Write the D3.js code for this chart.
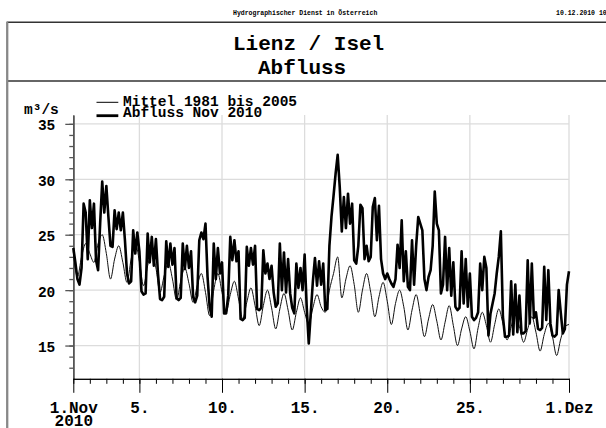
<!DOCTYPE html>
<html>
<head>
<meta charset="utf-8">
<script src="https://cdn.jsdelivr.net/npm/d3@7/dist/d3.min.js"></script>
<style>
body { margin: 0; background: #fff; }
text { font-family: "Courier New", "Liberation Mono", monospace; font-weight: bold; fill: #000; }
</style>
</head>
<body>
<div id="chart"></div>
<script>
//////////////////////////////////////////////
// data //////////////////////////////////////
//////////////////////////////////////////////

// Mittel 1981 bis 2005, every 6 hours from 1.Nov 00:00 to 1.Dez 00:00
var mittelValues = [
  23.5, 21.2, 23.0, 24.2,   23.3, 22.5, 24.2, 25.0,   23.3, 21.0, 22.8, 24.0,
  22.5, 20.7, 22.8, 24.3,   22.6, 20.4, 22.2, 23.5,   22.0, 19.8, 21.3, 22.5,
  21.0, 19.1, 20.8, 22.0,   20.6, 18.9, 20.4, 21.5,   19.8, 17.7, 20.0, 21.5,
  19.8, 18.0, 19.6, 20.8,   19.2, 17.4, 18.9, 20.2,   18.6, 16.8, 18.6, 20.0,
  18.4, 16.5, 18.3, 19.7,   18.2, 16.4, 18.0, 19.3,   18.0, 16.9, 18.4, 19.6,
  18.5, 18.0, 20.0, 21.5,   23.0, 19.3, 21.0, 22.2,   20.5, 18.0, 20.0, 21.5,
  19.8, 17.6, 19.4, 20.7,   19.0, 16.9, 18.8, 20.0,   18.5, 16.4, 18.2, 19.6,
  17.8, 15.8, 17.4, 18.7,   17.2, 15.5, 17.1, 18.6,   16.8, 15.0, 16.5, 17.6,
  16.3, 14.7, 16.6, 18.0,   16.8, 15.3, 16.9, 18.3,   17.0, 15.5, 16.7, 17.8,
  16.7, 15.3, 16.5, 17.6,   16.2, 14.5, 16.0, 17.0,   15.8, 14.1, 15.6, 16.7,
  16.9
];

// Abfluss Nov 2010, every 3 hours from 1.Nov 00:00 to 1.Dez 00:00
var abflussValues = [
  23.8, 22.5, 21.0, 20.5, 22.0, 27.8, 27.0, 22.8,
  28.1, 25.6, 27.8, 22.7, 21.8, 26.0, 29.8, 27.0,
  29.4, 26.6, 24.0, 23.9, 27.2, 25.5, 27.0, 25.4,
  27.0, 24.5, 21.5, 20.6, 20.8, 25.4, 23.3, 25.2,
  23.5, 19.9, 19.6, 19.7, 25.1, 22.5, 24.8, 22.2,
  24.6, 21.5, 19.2, 19.1, 19.4, 24.4, 22.1, 24.2,
  22.3, 23.8, 19.3, 19.1, 19.3, 24.2, 21.9, 24.0,
  22.0, 23.5, 19.4, 18.9, 19.5, 24.5, 25.2, 24.6,
  26.0, 21.2, 18.5, 17.6, 24.2, 21.0, 23.8, 21.5,
  22.5, 17.9, 17.9, 19.5, 24.8, 22.7, 24.5, 22.6,
  23.5, 17.4, 17.3, 17.5, 23.9, 22.2, 23.8, 22.3,
  24.0, 18.3, 18.2, 18.4, 23.6, 21.5, 22.4, 21.0,
  22.2, 19.8, 18.5, 18.8, 24.2, 20.0, 23.4, 19.8,
  22.8, 19.7, 18.4, 17.9, 22.4, 20.2, 22.0, 20.0,
  23.2, 18.5, 15.2, 18.0, 20.8, 22.9, 20.4, 22.6,
  20.5, 22.4, 18.2, 18.3, 24.0, 26.6, 28.5, 30.5,
  32.2, 29.3, 25.3, 28.4, 25.6, 28.7, 26.0, 27.8,
  22.7, 22.4, 24.0, 27.7, 27.4, 22.8, 24.0, 22.6,
  23.0, 27.5, 28.3, 24.5, 27.6, 22.8, 21.5, 21.0,
  21.5, 21.0, 20.6, 20.3, 21.0, 24.1, 22.0, 26.3,
  20.8, 23.5, 20.3, 20.0, 24.5, 20.5, 24.0, 26.6,
  26.0, 25.4, 21.0, 20.0, 21.2, 21.8, 24.0, 28.9,
  26.0, 25.4, 19.7, 20.5, 24.8, 20.0, 23.8, 19.5,
  22.5, 18.5, 18.2, 18.4, 23.5, 18.8, 22.8, 18.5,
  21.5, 17.6, 17.3, 17.5, 18.0, 22.4, 20.0, 23.0,
  22.0, 15.9, 17.9, 18.8, 19.7, 21.5, 23.0, 25.3,
  17.6, 15.8, 15.8, 15.9, 20.8, 16.0, 20.5, 16.2,
  19.5, 16.1, 16.1, 16.3, 22.7, 17.0, 22.4, 17.5,
  18.0, 16.5, 16.4, 16.6, 22.1, 17.3, 21.8, 17.0,
  15.9, 15.8, 16.0, 20.0, 18.0, 16.1, 16.5, 20.5,
  21.7
];

// axis ticks
var xTickDays = [1, 5, 10, 15, 20, 25, 31];
var xTickLabels = ["1.Nov", "5.", "10.", "15.", "20.", "25.", "1.Dez"];
var yTicks = [15, 20, 25, 30, 35];
var legendLabels = ["Mittel 1981 bis 2005", "Abfluss Nov 2010"];

var titleLines = ["Lienz / Isel", "Abfluss"];
var headerText = "Hydrographischer Dienst in Österreich";
var dateText = "10.12.2010 10:00";

// turn the arrays into {day, value}
var mittel = mittelValues.map(function(v, i) { return {day: 1 + i / 4, value: v}; });
var abfluss = abflussValues.map(function(v, i) { return {day: 1 + i / 8, value: v}; });

//////////////////////////////////////////////
// Chart Config /////////////////////////////
//////////////////////////////////////////////

var margin = {top: 115, right: 37, bottom: 49.2, left: 73.3};
var width = 606 - margin.left - margin.right,
    height = 428 - margin.top - margin.bottom;

var xScale = d3.scaleLinear().domain([1, 31]).range([0, width]);
var yScale = d3.scaleLinear().domain([12, 35.8]).range([height, 0]);

var svg = d3.select("#chart")
    .append("svg")
    .attr("width", 606)
    .attr("height", 428);

// frame / header
svg.append("text")
    .attr("x", 233).attr("y", 15)
    .style("font-size", "6.5px")
    .text(headerText);
svg.append("text")
    .attr("x", 556).attr("y", 15)
    .style("font-size", "6.5px")
    .text(dateText);

svg.append("path")
    .attr("d", "M7.3,428V22.3H606")
    .style("fill", "none").style("stroke", "#333").style("stroke-width", 1.5);
svg.append("line")
    .attr("x1", 7.3).attr("x2", 606).attr("y1", 81).attr("y2", 81)
    .style("stroke", "#333").style("stroke-width", 1.5);
svg.append("line")
    .attr("x1", 7.3).attr("x2", 7.3).attr("y1", 22).attr("y2", 428)
    .style("stroke", "#888").style("stroke-width", 2);

// titles
svg.append("text").attr("x", 233).attr("y", 49.5).style("font-size", "21px").text(titleLines[0]);
svg.append("text").attr("x", 258).attr("y", 73.5).style("font-size", "21px").text(titleLines[1]);

// unit
svg.append("text").attr("x", 24).attr("y", 113.5).style("font-size", "14.5px").text("m³/s");

var artboard = svg.append("g")
    .attr("transform", "translate(" + margin.left + "," + margin.top + ")");

// grid
artboard.selectAll(".hgrid").data(yTicks).enter().append("line")
    .attr("class", "hgrid")
    .attr("x1", 0).attr("x2", width)
    .attr("y1", function(d) { return yScale(d); })
    .attr("y2", function(d) { return yScale(d); })
    .style("stroke", "#dcdcdc").style("stroke-width", 1.3);
artboard.selectAll(".vgrid").data(xTickDays.slice(1)).enter().append("line")
    .attr("class", "vgrid")
    .attr("y1", 0).attr("y2", height)
    .attr("x1", function(d) { return xScale(d); })
    .attr("x2", function(d) { return xScale(d); })
    .style("stroke", "#dcdcdc").style("stroke-width", 1.3);

// Y axis: minor + major ticks
var yMinor = artboard.append("g")
    .call(d3.axisLeft(yScale).tickValues(d3.range(13, 36)).tickSize(4).tickSizeOuter(0).tickFormat(""));
var yAxisEl = artboard.append("g")
    .call(d3.axisLeft(yScale).tickValues(yTicks).tickSize(8).tickSizeOuter(0).tickPadding(10));
yAxisEl.selectAll("text").style("font-size", "14.5px").style("font-family", null).attr("dy", "0.42em");
[yMinor, yAxisEl].forEach(function(g) {
  g.selectAll("line").style("stroke", "#555").style("stroke-width", 1.3);
  g.select(".domain").style("stroke", "#555").style("stroke-width", 1.5);
});

// X axis: minor + major ticks
var xMinor = artboard.append("g")
    .attr("transform", "translate(0," + height + ")")
    .call(d3.axisBottom(xScale).tickValues(d3.range(1, 32)).tickSize(5).tickSizeOuter(0).tickFormat(""));
var xAxisEl = artboard.append("g")
    .attr("transform", "translate(0," + height + ")")
    .call(d3.axisBottom(xScale).tickValues(xTickDays).tickSize(14).tickSizeOuter(0).tickPadding(9)
      .tickFormat(function(d, i) { return xTickLabels[i]; }));
xAxisEl.selectAll("text").style("font-size", "16px").style("font-family", null);
xAxisEl.select(".tick text").append("tspan")
    .attr("x", 0).attr("dy", "13.3").text("2010");
[xMinor, xAxisEl].forEach(function(g) {
  g.selectAll("line").style("stroke", "#000");
  g.select(".domain").style("stroke", "#000");
});

// lines
var lineMittel = d3.line()
    .curve(d3.curveMonotoneX)
    .x(function(d) { return xScale(d.day); })
    .y(function(d) { return yScale(d.value); });
var lineAbfluss = d3.line()
    .x(function(d) { return xScale(d.day); })
    .y(function(d) { return yScale(d.value); });

artboard.append("path").datum(mittel)
    .attr("d", lineMittel)
    .style("fill", "none").style("stroke", "#111").style("stroke-width", 1);
artboard.append("path").datum(abfluss)
    .attr("d", lineAbfluss)
    .style("fill", "none").style("stroke", "#000").style("stroke-width", 2.6)
    .style("stroke-linejoin", "round");

// legend
var legendY = [102.3, 115.7];
var legendW = [1, 2.8];
var legend = svg.selectAll(".legend").data(legendLabels).enter().append("g").attr("class", "legend");
legend.append("line")
    .attr("x1", 96.5).attr("x2", 118.3)
    .attr("y1", function(d, i) { return legendY[i]; })
    .attr("y2", function(d, i) { return legendY[i]; })
    .style("stroke", "#000")
    .style("stroke-width", function(d, i) { return legendW[i]; });
legend.append("text")
    .attr("x", 123)
    .attr("y", function(d, i) { return legendY[i] + (i == 0 ? 3.5 : 1.5); })
    .style("font-size", "14.5px")
    .text(function(d) { return d; });
</script>
</body>
</html>
